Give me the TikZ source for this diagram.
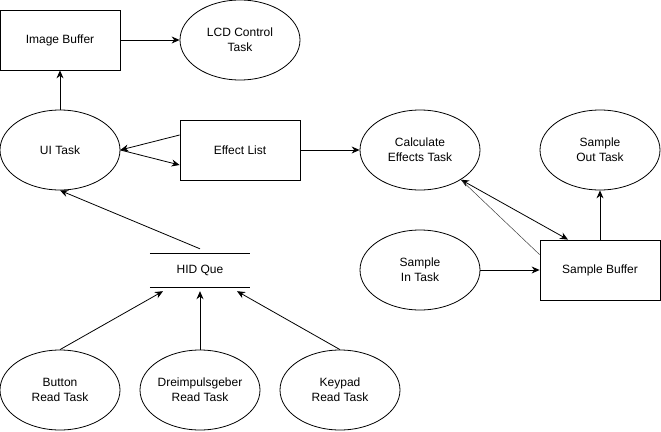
\documentclass[tikz,border=0pt]{standalone}
\usepackage{fontspec}
\setmainfont{Liberation Sans}
\usetikzlibrary{shapes.geometric,arrows.meta}
\begin{document}
\begin{tikzpicture}[x=1pt,y=-1pt,
  every node/.style={font=\fontsize{12}{15}\selectfont, align=center, inner sep=0pt},
  boxn/.style={draw, line width=0.8pt, minimum width=120pt, minimum height=60pt},
  ell/.style={draw, ellipse, line width=0.8pt, minimum width=120pt, minimum height=80pt},
  conn/.style={line width=0.8pt, -{Stealth[length=8pt,width=7pt]}},
  thin conn/.style={line width=0.5pt, draw=black!75}]
\useasboundingbox (0,0) rectangle (661,431);
\node[boxn] (imgbuf) at (60,40) {Image Buffer};
\node[ell] (lcd) at (240,40) {LCD Control\\Task};
\node[ell] (ui) at (60,150) {UI Task};
\node[boxn] (effect) at (240,150) {Effect List};
\node[ell] (calc) at (420,150) {Calculate\\Effects Task};
\node[ell] (sout) at (600,150) {Sample\\Out Task};
\node[ell] (sin) at (420,270) {Sample\\In Task};
\node[boxn] (sbuf) at (600,270) {Sample Buffer};
\node[minimum width=100pt, minimum height=42pt] (hid) at (200,270) {HID Que};
\draw[line width=0.8pt] ([yshift=17pt]hid.west) -- ([yshift=17pt]hid.east);
\draw[line width=0.8pt] ([yshift=-17pt]hid.west) -- ([yshift=-17pt]hid.east);
\node[ell] (button) at (60,390) {Button\\Read Task};
\node[ell] (dreh) at (200,390) {Dreimpulsgeber\\Read Task};
\node[ell] (keypad) at (340,390) {Keypad\\Read Task};

\draw[conn] (imgbuf.east) -- (lcd.west);
\draw[conn] (ui.north) -- (imgbuf.south);
\draw[conn] ([yshift=15pt]effect.west) -- (ui.east);
\draw[conn] (ui.east) -- ([yshift=-15pt]effect.west);
\draw[conn] (effect.east) -- (calc.west);
\draw[conn] (sin.east) -- (sbuf.west);
\draw[conn] (sbuf.north) -- (sout.south);
\draw[conn, {Stealth[length=8pt,width=7pt]}-{Stealth[length=8pt,width=7pt]}] (calc.-36) -- ([xshift=-32pt]sbuf.north);
\draw[thin conn] ([yshift=-15pt]sbuf.north west) -- (calc.-36);
\draw[conn] (hid.north) -- (ui.south);
\draw[conn] (button.north) -- ([xshift=-37pt]hid.south);
\draw[conn] (dreh.north) -- (hid.south);
\draw[conn] (keypad.north) -- ([xshift=37pt]hid.south);
\end{tikzpicture}
\end{document}
